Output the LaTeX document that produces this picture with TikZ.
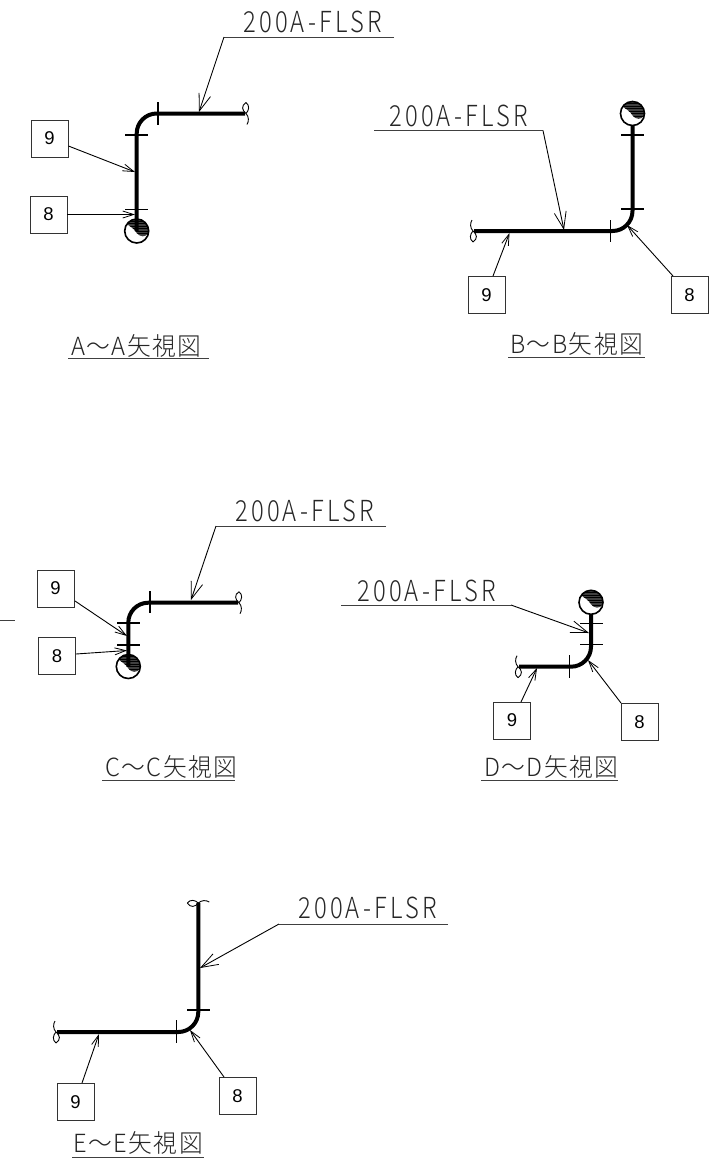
\documentclass[tikz,border=0pt]{standalone}
\usepackage{fontspec}
\usetikzlibrary{arrows.meta}
\newfontfamily\cadfont[LetterSpace=11,FakeStretch=0.82]{Noto Sans CJK JP Light}
\newfontfamily\capfont[LetterSpace=6,FakeStretch=0.95]{Noto Sans CJK JP Light}
\setmainfont{Liberation Sans}
\definecolor{hatch}{gray}{0.25}
\tikzset{
  x=1pt,y=-1pt,
  pipe/.style={line width=4pt,line cap=butt,rounded corners=20pt},
  tick/.style={line width=1.2pt},
  thinl/.style={line width=1pt,black!75},
  lead/.style={line width=0.9pt,-{Straight Barb[length=17pt,width=12pt,line width=0.8pt]}},
  ref/.style={line width=0.9pt,-{Straight Barb[length=11pt,width=7pt,line width=0.8pt]}},
  itembox/.style={draw,line width=0.9pt,black!80,minimum width=37pt,minimum height=37pt,inner sep=0pt,font=\fontsize{18.5}{18.5}\selectfont,text=black},
  spec/.style={inner sep=0pt,font=\cadfont\fontsize{29}{29}\selectfont,text=black!85},
  capt/.style={inner sep=0pt,font=\capfont\fontsize{25}{25}\selectfont,text=black!85},
  brk/.pic={\draw[line width=0.9pt] (0,-11) .. controls (-5,-8) and (-4,-3) .. (0,0) .. controls (3,3) and (3,8) .. (1,11)
     (0,-11) .. controls (4,-8) and (3,-3) .. (0,0);},
  elbow/.pic={
    \fill[white] (0,0) circle[radius=12];
    \begin{scope}
      \clip (-9.8,-7) arc[start angle=-144,end angle=8,radius=12] .. controls (9,7) and (3,6) .. (0,2) .. controls (-2,-2) and (-6,-4) .. (-9.8,-7) -- cycle;
      \fill[hatch] (-12,-12) rectangle (12,12);
      \foreach \yy in {-10,-7.5,-5,-2.5,0,2.5}{\draw[black,line width=0.6pt] (-12,\yy) -- (12,\yy);}
    \end{scope}
    \draw[line width=1.6pt] (0,0) circle[radius=12];
  }
}
\begin{document}
\begin{tikzpicture}
\useasboundingbox (0,0) rectangle (716,1162);
% ---- A
\pic at (136.7,231) {elbow};
\draw[pipe] (245,113.5) -- (136.7,113.5) -- (136.7,231);
\draw[tick] (158,102) -- (158,125) (125,135) -- (148,135) (125,209.5) -- (148,209.5);
\pic at (246,113.5) {brk};
\node[spec,anchor=west] (at) at (243,22) {200A-FLSR};
\coordinate (al1) at (394,37); \coordinate (al2) at (224,37); \coordinate (at1) at (199,112);
\draw[thinl] (al1) -- (al2);
\draw[lead] (al2) -- (at1);
\node[itembox] (a9) at (49.5,138.5) {9};
\node[itembox] (a8) at (48.5,214.5) {8};
\coordinate (a9t) at (135,172); \coordinate (a8t) at (135,214.5);
\draw[ref] (a9.east |- 0,146) -- (a9t);
\draw[ref] (a8) -- (a8t);
\node[capt,anchor=west] (ac) at (71,346) {A～A矢視図};
\coordinate (ac1) at (68,358); \coordinate (ac2) at (209,358);
\draw[thinl] (ac1) -- (ac2);
% ---- B
\pic at (632.5,113.5) {elbow};
\draw[pipe] (632.5,125) -- (632.5,231) -- (474,231);
\draw[tick] (610.5,220) -- (610.5,242) (621,135) -- (644,135) (621,209) -- (644,209);
\pic[rotate=180] at (473,231) {brk};
\node[spec,anchor=west] (bt) at (389,116) {200A-FLSR};
\coordinate (bl1) at (374,130.5); \coordinate (bl2) at (543,130.5); \coordinate (bt1) at (564,230);
\draw[thinl] (bl1) -- (bl2);
\draw[lead] (bl2) -- (bt1);
\node[itembox] (b9) at (486.5,295) {9};
\node[itembox] (b8) at (689.5,295) {8};
\coordinate (b9s) at (493,276); \coordinate (b9t) at (509.5,233);
\coordinate (b8s) at (673,276); \coordinate (b8t) at (627,225);
\draw[ref] (b9s) -- (b9t);
\draw[ref] (b8s) -- (b8t);
\node[capt,anchor=west] (bc) at (510,344) {B～B矢視図};
\coordinate (bc1) at (508,357); \coordinate (bc2) at (645,357);
\draw[thinl] (bc1) -- (bc2);
% ---- C
\pic at (128.3,666.5) {elbow};
\draw[pipe] (238,602.7) -- (128.3,602.7) -- (128.3,666.5);
\draw[tick] (150,591) -- (150,613) (117,623) -- (140,623) (117,645) -- (140,645);
\pic at (239,602.7) {brk};
\node[spec,anchor=west] (ct) at (235,511) {200A-FLSR};
\coordinate (cl1) at (386,526); \coordinate (cl2) at (216,526); \coordinate (ct1) at (191,600);
\draw[thinl] (cl1) -- (cl2);
\draw[lead] (cl2) -- (ct1);
\node[itembox] (c9) at (55.5,588.5) {9};
\node[itembox] (c8) at (57,656) {8};
\coordinate (c9s) at (75,601); \coordinate (c9t) at (127,636);
\coordinate (c8s) at (76,654); \coordinate (c8t) at (127,650.5);
\draw[ref] (c9s) -- (c9t);
\draw[ref] (c8s) -- (c8t);
\node[capt,anchor=west] (cc) at (105,767) {C～C矢視図};
\coordinate (cc1) at (102,780); \coordinate (cc2) at (235,780);
\draw[thinl] (cc1) -- (cc2);
\coordinate (s1) at (0,620); \coordinate (s2) at (15,620);
\draw[thinl] (s1) -- (s2);
% ---- D
\pic at (591,602.3) {elbow};
\draw[pipe] (591,614) -- (591,666.7) -- (519,666.7);
\draw[tick] (569.7,655) -- (569.7,678) (580,623.7) -- (603,623.7) (580,644.7) -- (603,644.7);
\pic[rotate=180] at (518,666.7) {brk};
\node[spec,anchor=west] (dt) at (357,591) {200A-FLSR};
\coordinate (dl1) at (341,605); \coordinate (dl2) at (511,605); \coordinate (dt1) at (589,633);
\draw[thinl] (dl1) -- (dl2);
\draw[lead] (dl2) -- (dt1);
\node[itembox] (d9) at (512,720.5) {9};
\node[itembox] (d8) at (639.5,722) {8};
\coordinate (d9s) at (521,702); \coordinate (d9t) at (537,668);
\coordinate (d8s) at (621,703); \coordinate (d8t) at (588,660);
\draw[ref] (d9s) -- (d9t);
\draw[ref] (d8s) -- (d8t);
\node[capt,anchor=west] (dc) at (484,767) {D～D矢視図};
\coordinate (dc1) at (481,780.5); \coordinate (dc2) at (618,780.5);
\draw[thinl] (dc1) -- (dc2);
% ---- E
\draw[pipe] (198.3,903) -- (198.3,1032) -- (57,1032);
\draw[tick] (176.7,1020) -- (176.7,1043) (187,1010) -- (210,1010);
\pic[rotate=90] at (198.3,903) {brk};
\pic[rotate=180] at (56,1032) {brk};
\node[spec,anchor=west] (et) at (298,908) {200A-FLSR};
\coordinate (el1) at (448,924); \coordinate (el2) at (279,924); \coordinate (et1) at (200,968);
\draw[thinl] (el1) -- (el2);
\draw[lead] (el2) -- (et1);
\node[itembox] (e9) at (75.5,1102) {9};
\node[itembox] (e8) at (237.5,1096) {8};
\coordinate (e9s) at (82,1083); \coordinate (e9t) at (99,1034);
\coordinate (e8s) at (224,1077); \coordinate (e8t) at (190,1030);
\draw[ref] (e9s) -- (e9t);
\draw[ref] (e8s) -- (e8t);
\node[capt,anchor=west] (ec) at (73,1143) {E～E矢視図};
\coordinate (ec1) at (72,1157); \coordinate (ec2) at (204,1157);
\draw[thinl] (ec1) -- (ec2);
\end{tikzpicture}
\end{document}
